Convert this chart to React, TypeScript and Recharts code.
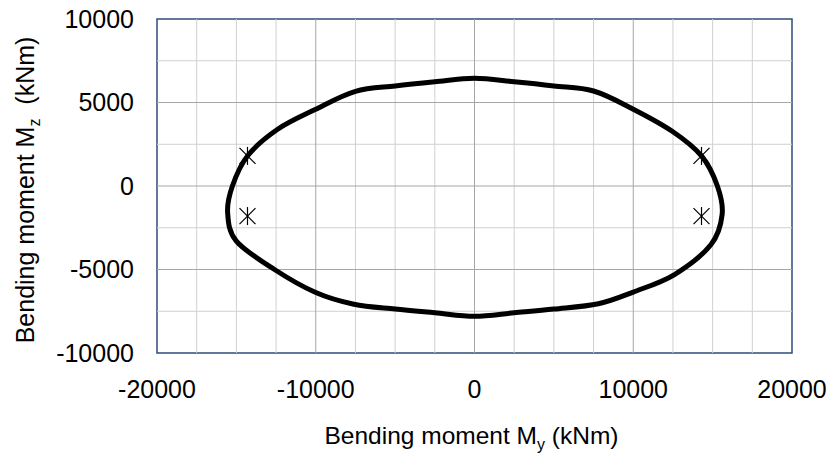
import React from "react";
import {
  ComposedChart,
  Line,
  Scatter,
  XAxis,
  YAxis,
  ReferenceLine,
  ReferenceArea,
} from "recharts";

// interaction curve (clockwise from the top)
const curveMy = [
  0, 2500, 5000, 7500, 10000, 12500, 14300, 15300, 15600, 14900, 12600, 10000,
  7800, 5000, 2500, 0, -2500, -5000, -7600, -10000, -12600, -15000, -15550,
  -15250, -14300, -12400, -10000, -7500, -5000, -2500, 0,
];
const curveMz = [
  6450, 6240, 5990, 5690, 4600, 3250, 1800, 0, -1700, -3500, -5300, -6350,
  -7050, -7370, -7590, -7800, -7590, -7370, -7080, -6380, -5000, -3300, -1600,
  0, 1800, 3400, 4600, 5670, 5990, 6240, 6450,
];

// load cases (asterisk markers)
const caseMy = [-14300, -14300, 14300, 14300];
const caseMz = [1800, -1800, 1800, -1800];

const xTicks = [-20000, -10000, 0, 10000, 20000];
const yTicks = [-10000, -5000, 0, 5000, 10000];
const xMinor = [-17500, -15000, -12500, -7500, -5000, -2500, 2500, 5000, 7500, 12500, 15000, 17500];
const xMajor = [-10000, 0, 10000];
const yMinor = [-7500, -2500, 2500, 7500];
const yMajor = [-5000, 0, 5000];

const curveData = curveMy.map((x, i) => ({ x, y: curveMz[i] }));
const caseData = caseMy.map((x, i) => ({ x, y: caseMz[i] }));

const FONT = "'Liberation Sans', Arial, sans-serif";

// smoothing like a spreadsheet "smoothed line" (bezier, 1/6 tangents)
const smoothCurve = (context: any) => {
  let pts: number[][] = [];
  return {
    areaStart() {},
    areaEnd() {},
    lineStart() {
      pts = [];
    },
    point(x: number, y: number) {
      pts.push([x, y]);
    },
    lineEnd() {
      const n = pts.length;
      if (!n) return;
      const closed =
        n > 2 && pts[0][0] === pts[n - 1][0] && pts[0][1] === pts[n - 1][1];
      context.moveTo(pts[0][0], pts[0][1]);
      for (let i = 0; i < n - 1; i++) {
        const p1 = pts[i];
        const p2 = pts[i + 1];
        const p0 = i > 0 ? pts[i - 1] : closed ? pts[n - 2] : p1;
        const p3 = i + 2 < n ? pts[i + 2] : closed ? pts[1] : p2;
        context.bezierCurveTo(
          p1[0] + (p2[0] - p0[0]) / 6,
          p1[1] + (p2[1] - p0[1]) / 6,
          p2[0] - (p3[0] - p1[0]) / 6,
          p2[1] - (p3[1] - p1[1]) / 6,
          p2[0],
          p2[1]
        );
      }
    },
  };
};

const Asterisk = (props: any) => {
  const { cx, cy } = props;
  if (cx == null || cy == null) return null;
  return (
    <g stroke="#000" strokeWidth={1.2}>
      <line x1={cx} y1={cy - 9} x2={cx} y2={cy + 9} />
      <line x1={cx - 8} y1={cy - 8} x2={cx + 8} y2={cy + 8} />
      <line x1={cx - 8} y1={cy + 8} x2={cx + 8} y2={cy - 8} />
    </g>
  );
};

const XTitle = (props: any) => {
  const vb = props.viewBox || {};
  const cx = vb.x + vb.width / 2 - 3;
  return (
    <text x={cx} y={444} textAnchor="middle" fontFamily={FONT} fontSize={24.5} fill="#000">
      <tspan>Bending moment M</tspan>
      <tspan dy={6} fontSize={16}>y</tspan>
      <tspan dy={-6}> (kNm)</tspan>
    </text>
  );
};

const YTitle = (props: any) => {
  const vb = props.viewBox || {};
  const cy = vb.y + vb.height / 2 + 4;
  return (
    <text
      x={34}
      y={cy}
      textAnchor="middle"
      transform={`rotate(-90, 34, ${cy})`}
      fontFamily={FONT}
      fontSize={25}
      fill="#000"
      style={{ whiteSpace: "pre" }}
    >
      <tspan>Bending moment M</tspan>
      <tspan dy={6} fontSize={16}>z</tspan>
      <tspan dy={-6}>{"  (kNm)"}</tspan>
    </text>
  );
};

export default function App() {
  const tick = { fontSize: 25, fill: "#000", fontFamily: FONT };
  return (
    <div style={{ position: "absolute", left: 0, top: 0, background: "#fff" }}>
      <ComposedChart
        width={829}
        height={468}
        margin={{ top: 19, right: 37, bottom: 0, left: 0 }}
      >
        <XAxis
          type="number"
          dataKey="x"
          domain={[-20000, 20000]}
          ticks={xTicks}
          height={115}
          axisLine={false}
          tickLine={false}
          tickSize={0}
          tickMargin={27}
          tick={tick}
          allowDataOverflow
          label={<XTitle />}
        />
        <YAxis
          type="number"
          dataKey="y"
          domain={[-10000, 10000]}
          ticks={yTicks}
          width={157}
          axisLine={false}
          tickLine={false}
          tickSize={0}
          tickMargin={23}
          tick={tick}
          allowDataOverflow
          label={<YTitle />}
        />
        {xMinor.map((v) => (
          <ReferenceLine key={"xm" + v} x={v} stroke="#d0d0d0" strokeWidth={1} />
        ))}
        {yMinor.map((v) => (
          <ReferenceLine key={"ym" + v} y={v} stroke="#d0d0d0" strokeWidth={1} />
        ))}
        {xMajor.map((v) => (
          <ReferenceLine key={"xM" + v} x={v} stroke="#a6a6a6" strokeWidth={1} />
        ))}
        {yMajor.map((v) => (
          <ReferenceLine key={"yM" + v} y={v} stroke="#a6a6a6" strokeWidth={1} />
        ))}
        <Line
          data={curveData}
          dataKey="y"
          type={smoothCurve as any}
          stroke="#000"
          strokeWidth={5}
          dot={false}
          activeDot={false}
          isAnimationActive={false}
        />
        <Scatter
          data={caseData}
          dataKey="y"
          shape={<Asterisk />}
          isAnimationActive={false}
        />
        <ReferenceArea
          x1={-20000}
          x2={20000}
          y1={-10000}
          y2={10000}
          fill="none"
          fillOpacity={0}
          stroke="#2f4b7c"
          strokeWidth={1.5}
        />
      </ComposedChart>
    </div>
  );
}
